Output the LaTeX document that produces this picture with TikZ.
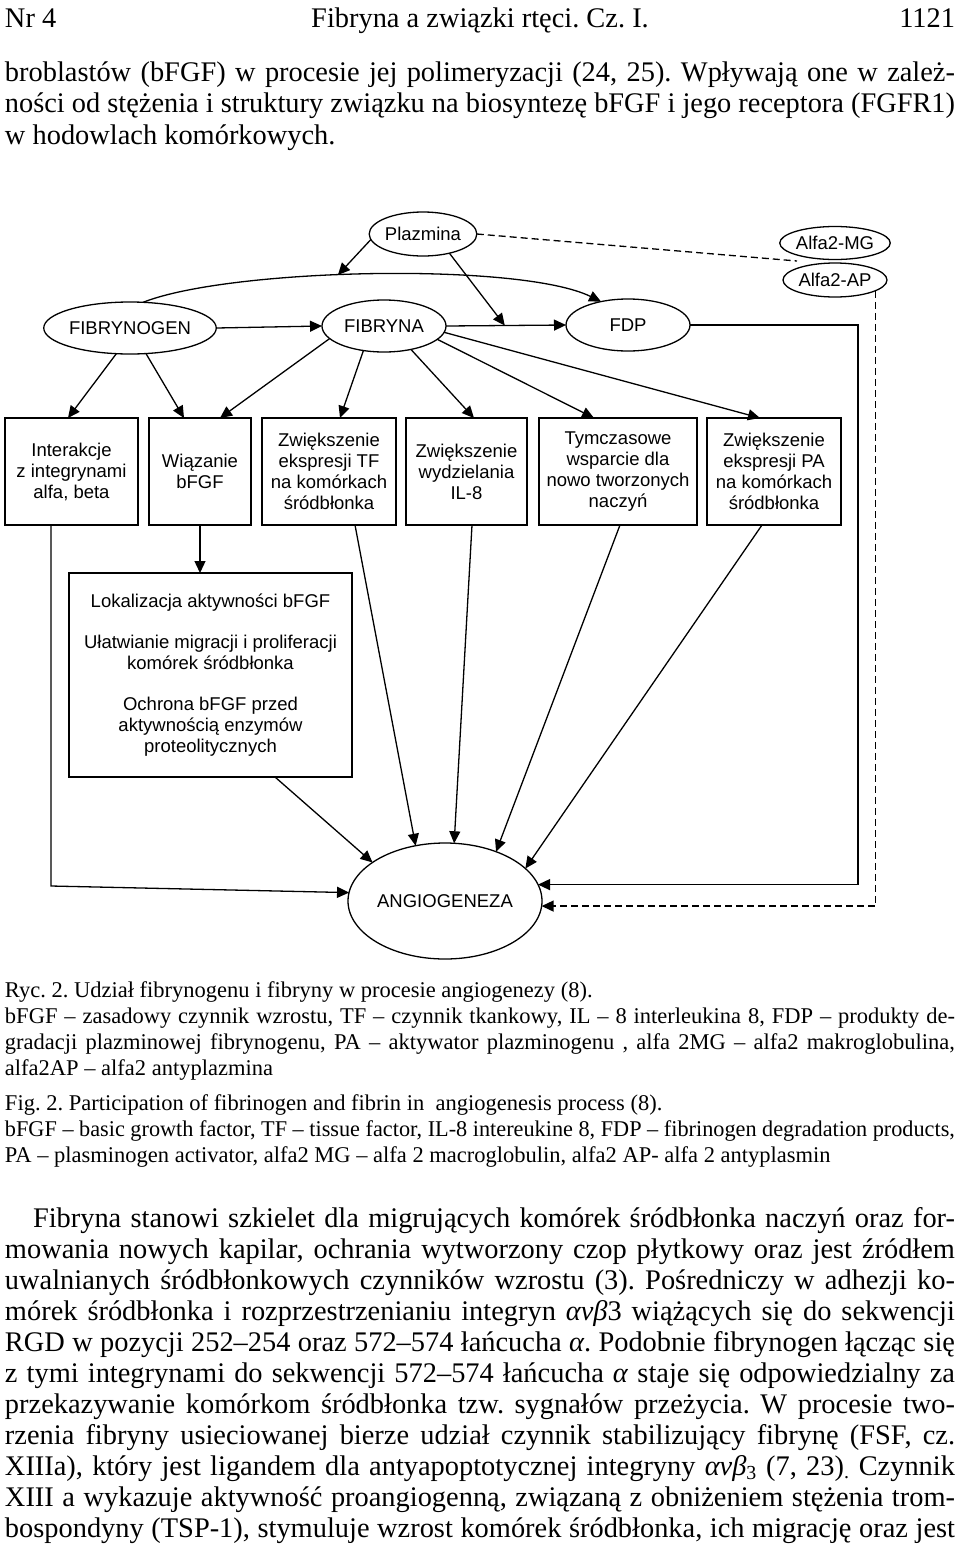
\documentclass[tikz,border=0pt]{standalone}
\usepackage{fontspec}
\setmainfont{Liberation Serif}
\newfontfamily\diagfont{Liberation Sans}
\usepackage{graphicx}
\usetikzlibrary{arrows.meta,shapes.geometric,calc}
\frenchspacing
\newsavebox\jbox
\newcommand\jline[2]{\sbox\jbox{#2}\ifdim\wd\jbox>#1\relax\resizebox{#1}{\height}{\usebox\jbox}\else\makebox[#1][s]{#2}\fi}
\begin{document}
\begin{tikzpicture}[x=1pt,y=-1pt,
  line width=1.3pt,
  every node/.style={inner sep=0pt,outer sep=0pt},
  ell/.style={draw,ellipse,font=\diagfont\fontsize{18.5}{21}\selectfont},
  box/.style={draw,rectangle,align=center,font=\diagfont\fontsize{18.5}{21}\selectfont},
  arr/.style={-{Triangle[length=12pt,width=11pt]}},
  dsh/.style={dash pattern=on 7pt off 4pt},
  body/.style={anchor=base west,font=\fontsize{28.4}{31}\selectfont},
  capt/.style={anchor=base west,font=\fontsize{22.5}{26}\selectfont}]
\fill[white] (0,0) rectangle (960,1556);
\useasboundingbox (0,0) rectangle (960,1556);

% header and top text
\node[body] (h1) at (5,27) {Nr 4};
\node[body,anchor=base] (h2) at (480,27) {Fibryna a związki rtęci. Cz. I.};
\node[body,anchor=base east] (h3) at (955,27) {1121};
\node[body] (t1) at (5,81) {\jline{950pt}{broblastów (bFGF) w procesie jej polimeryzacji (24, 25). Wpływają one w zależ-}};
\node[body] (t2) at (5,112) {\jline{950pt}{ności od stężenia i struktury związku na biosyntezę bFGF i jego receptora (FGFR1)}};
\node[body] (t3) at (5,144) {w hodowlach komórkowych.};

% diagram nodes
\node[ell,minimum width=106pt,minimum height=44pt] (plazmina) at (423,234) {Plazmina};
\node[ell,minimum width=104pt,minimum height=33pt] (alfamg) at (835,243) {Alfa2-MG};
\node[ell,minimum width=104pt,minimum height=34pt] (alfaap) at (835,280) {Alfa2-AP};
\node[ell,minimum width=136pt,minimum height=52pt] (fibrynogen) at (130,328) {FIBRYNOGEN};
\node[ell,minimum width=124pt,minimum height=52pt] (fibryna) at (384,326) {FIBRYNA};
\node[ell,minimum width=124pt,minimum height=52pt] (fdp) at (628,325) {FDP};
\node[ell,minimum width=194pt,minimum height=116pt] (angio) at (445,901) {ANGIOGENEZA};

\node[box,minimum width=133pt,minimum height=107pt] (b1) at (71.5,471.5) {Interakcje\\z integrynami\\alfa, beta};
\node[box,minimum width=102pt,minimum height=107pt] (b2) at (200,471.5) {Wiązanie\\bFGF};
\node[box,minimum width=134pt,minimum height=107pt] (b3) at (329,471.5) {Zwiększenie\\ekspresji TF\\na komórkach\\śródbłonka};
\node[box,minimum width=121pt,minimum height=107pt] (b4) at (466.5,471.5) {Zwiększenie\\wydzielania\\IL-8};
\node[box,minimum width=158pt,minimum height=107pt] (b5) at (618,471.5) {Tymczasowe\\wsparcie dla\\nowo tworzonych\\naczyń};
\node[box,minimum width=134pt,minimum height=107pt] (b6) at (774,471.5) {Zwiększenie\\ekspresji PA\\na komórkach\\śródbłonka};
\node[box,minimum width=283pt,minimum height=204pt] (big) at (210.5,675) {Lokalizacja aktywności bFGF\\[20pt]Ułatwianie migracji i proliferacji\\komórek śródbłonka\\[20pt]Ochrona bFGF przed\\aktywnością enzymów\\proteolitycznych};

% connectors at the top
\coordinate (alfaj) at (797,261);
\draw[dsh] (plazmina.east) -- (alfaj);
\draw[arr] (fibrynogen.63) .. controls (230,268) and (520,262) .. (fdp.139) coordinate[pos=0.435] (arcpt);
\draw[arr] (plazmina.186) -- (arcpt);
\draw[arr] (fibrynogen.east) -- (fibryna.west);
\draw[arr] (fibryna.east) -- (fdp.west);
\coordinate (j2) at ($(fibryna.east)!0.49!(fdp.west)$);
\draw[arr] (plazmina.324) -- (j2);

\draw[arr] (fibrynogen.242) -- ([xshift=-3.5pt]b1.north);
\draw[arr] (fibrynogen.302) -- ([xshift=-16pt]b2.north);
\draw[arr] (fibryna.193) -- ([xshift=20pt]b2.north);
\draw[arr] (fibryna.230) -- ([xshift=11pt]b3.north);
\draw[arr] (fibryna.319) -- ([xshift=7.5pt]b4.north);
\draw[arr] (fibryna.346) -- ([xshift=-24pt]b5.north);
\draw[arr] (fibryna.354) -- ([xshift=-14pt]b6.north);

% connectors at the bottom
\draw[arr] (b2.south) -- (b2.south |- big.north);
\coordinate (b1c) at (51,886);
\draw[arr] ([xshift=-20.5pt]b1.south) -- (b1c) -- (angio.175);
\draw[arr] ([xshift=64.5pt]big.south) -- (angio.152);
\draw[arr] ([xshift=26pt]b3.south) -- (angio.118);
\draw[arr] ([xshift=5.5pt]b4.south) -- (angio.81);
\draw[arr] ([xshift=2pt]b5.south) -- (angio.44);
\draw[arr] ([xshift=-12pt]b6.south) -- (angio.22);
\coordinate (fdpc) at (858,600);
\draw[arr] (fdp.east) -| (fdpc) |- (angio.10);
\draw[arr,dsh] (alfaap.345) |- (angio.357.6);

% caption
\node[capt] (c1) at (5,997) {Ryc. 2. Udział fibrynogenu i fibryny w procesie angiogenezy (8).};
\node[capt] (c2) at (5,1023) {\jline{950pt}{bFGF – zasadowy czynnik wzrostu, TF – czynnik tkankowy, IL – 8 interleukina 8, FDP – produkty de-}};
\node[capt] (c3) at (5,1049) {\jline{950pt}{gradacji plazminowej fibrynogenu, PA – aktywator plazminogenu , alfa 2MG – alfa2 makroglobulina,}};
\node[capt] (c4) at (5,1075) {alfa2AP – alfa2 antyplazmina};
\node[capt] (c5) at (5,1110) {Fig. 2. Participation of fibrinogen and fibrin in\ \ angiogenesis process (8).};
\node[capt] (c6) at (5,1136) {\jline{950pt}{bFGF – basic growth factor, TF – tissue factor, IL-8 intereukine 8, FDP – fibrinogen degradation products,}};
\node[capt] (c7) at (5,1162) {PA – plasminogen activator, alfa2 MG – alfa 2 macroglobulin, alfa2 AP- alfa 2 antyplasmin};

% bottom text
\node[body] (p1) at (33,1227) {\jline{922pt}{Fibryna stanowi szkielet dla migrujących komórek śródbłonka naczyń oraz for-}};
\node[body] (p2) at (5,1258) {\jline{950pt}{mowania nowych kapilar, ochrania wytworzony czop płytkowy oraz jest źródłem}};
\node[body] (p3) at (5,1289) {\jline{950pt}{uwalnianych śródbłonkowych czynników wzrostu (3). Pośredniczy w adhezji ko-}};
\node[body] (p4) at (5,1320) {\jline{950pt}{mórek śródbłonka i rozprzestrzenianiu integryn \textit{αvβ}3 wiążących się do sekwencji}};
\node[body] (p5) at (5,1351) {\jline{950pt}{RGD w pozycji 252–254 oraz 572–574 łańcucha \textit{α}. Podobnie fibrynogen łącząc się}};
\node[body] (p6) at (5,1382) {\jline{950pt}{z tymi integrynami do sekwencji 572–574 łańcucha \textit{α} staje się odpowiedzialny za}};
\node[body] (p7) at (5,1413) {\jline{950pt}{przekazywanie komórkom śródbłonka tzw. sygnałów przeżycia. W procesie two-}};
\node[body] (p8) at (5,1444) {\jline{950pt}{rzenia fibryny usieciowanej bierze udział czynnik stabilizujący fibrynę (FSF, cz.}};
\node[body] (p9) at (5,1475) {\jline{950pt}{XIIIa), który jest ligandem dla antyapoptotycznej integryny \textit{αvβ}\textsubscript{3} (7, 23)\textsubscript{.} Czynnik}};
\node[body] (p10) at (5,1506) {\jline{950pt}{XIII a wykazuje aktywność proangiogenną, związaną z obniżeniem stężenia trom-}};
\node[body] (p11) at (5,1537) {\jline{950pt}{bospondyny (TSP-1), stymuluje wzrost komórek śródbłonka, ich migrację oraz jest}};
\end{tikzpicture}
\end{document}
